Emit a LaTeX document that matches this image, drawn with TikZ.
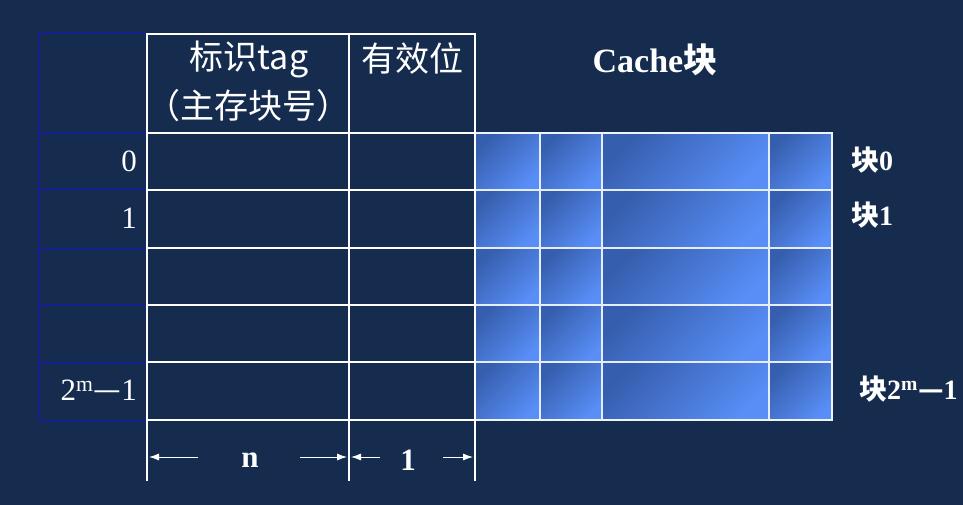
\documentclass[tikz,border=0pt]{standalone}
\usepackage{fontspec}
\setmainfont{Liberation Serif}
\newfontfamily\cjk{Noto Sans CJK SC}
\usetikzlibrary{arrows.meta}
\definecolor{bgnavy}{RGB}{22,44,78}
\definecolor{idxblue}{RGB}{20,20,200}
\definecolor{celldark}{RGB}{54,94,174}
\definecolor{celllight}{RGB}{88,142,246}

\begin{document}
\begin{tikzpicture}[x=1pt,y=-1pt,
  txt/.style={text=white,inner sep=0pt},
  dimarrow/.style={-{Latex[length=10pt,width=7pt]},white,line width=0.9pt}]
  \fill[bgnavy] (0,0) rectangle (963,505);
  \useasboundingbox (0,0) rectangle (963,505);
  % cache blocks
  \foreach \xa/\xb in {475/540,540/602,602/769,769/832}
    \foreach \ya/\yb in {133/190,190/248,248/305,305/362,362/420}
      \shade[top color=celldark,bottom color=celllight,shading angle=45] (\xa,\ya) rectangle (\xb,\yb);
  \foreach \y in {190,248,305,362}
    \draw[white!85!celllight,line width=1.2pt] (475,\y) -- (832,\y);
  \foreach \x in {540,602,769}
    \draw[white!85!celllight,line width=1.2pt] (\x,133) -- (\x,420);
  \draw[white!90!celllight,line width=1.6pt] (475,133) -- (832,133) -- (832,420) -- (475,420);
  % index column
  \draw[idxblue,line width=1pt] (147,34) -- (38,34) -- (38,420) -- (147,420);
  \foreach \y in {133,190,248,305,362}
    \draw[idxblue,line width=1pt] (38,\y) -- (147,\y);
  % tag / valid table
  \foreach \y in {133,190,248,305,362}
    \draw[white,line width=1.2pt] (147,\y) -- (475,\y);
  \draw[white,line width=2pt] (147,34) rectangle (475,420);
  \draw[white,line width=2pt] (349,34) -- (349,420);
  % headers
  \node[txt,font=\fontsize{34}{40}\selectfont\cjk] (tagtop) at (249,59) {标识tag};
  \node[txt,font=\fontsize{34}{40}\selectfont\cjk] (tagsub) at (248,106) {（主存块号）};
  \node[txt,font=\fontsize{34}{40}\selectfont\cjk] (valid) at (412,59) {有效位};
  \node[txt,font=\fontsize{34}{40}\selectfont\bfseries] (cachehd) at (655,60) {Cache{\cjk 块}};
  % index numbers
  \node[txt,anchor=east,font=\fontsize{31}{36}\selectfont] (idx0) at (137,161) {0};
  \node[txt,anchor=east,font=\fontsize{31}{36}\selectfont] (idx1) at (137,218) {1};
  \node[txt,anchor=east,font=\fontsize{31}{36}\selectfont] (idxm) at (137,390) {2\textsuperscript{m}{\cjk —}1};
  % block names
  \node[txt,anchor=west,font=\fontsize{28}{32}\selectfont\bfseries] (blk0) at (851,160) {{\cjk 块}0};
  \node[txt,anchor=west,font=\fontsize{28}{32}\selectfont\bfseries] (blk1) at (851,215) {{\cjk 块}1};
  \node[txt,anchor=west,font=\fontsize{28}{32}\selectfont\bfseries] (blkm) at (859,389) {{\cjk 块}2\textsuperscript{m}{\cjk —}1};
  % widths
  \foreach \x/\nm in {147/ta,349/tb,475/tc} {
    \coordinate (\nm top) at (\x,420);
    \coordinate (\nm bot) at (\x,481);
    \draw[white,line width=2pt] (\nm top) -- (\nm bot);
  }
  \node[txt,font=\fontsize{31}{34}\selectfont\bfseries] (nlbl) at (250,460) {n};
  \node[txt,font=\fontsize{31}{34}\selectfont\bfseries] (onelbl) at (408,460) {1};
  \coordinate (na) at (198,457); \coordinate (nb) at (149,457);
  \coordinate (nc) at (300,457); \coordinate (nd) at (347,457);
  \coordinate (oa) at (380,457); \coordinate (ob) at (351,457);
  \coordinate (oc) at (443,457); \coordinate (od) at (473,457);
  \draw[dimarrow] (na) -- (nb);
  \draw[dimarrow] (nc) -- (nd);
  \draw[dimarrow] (oa) -- (ob);
  \draw[dimarrow] (oc) -- (od);
\end{tikzpicture}
\end{document}
